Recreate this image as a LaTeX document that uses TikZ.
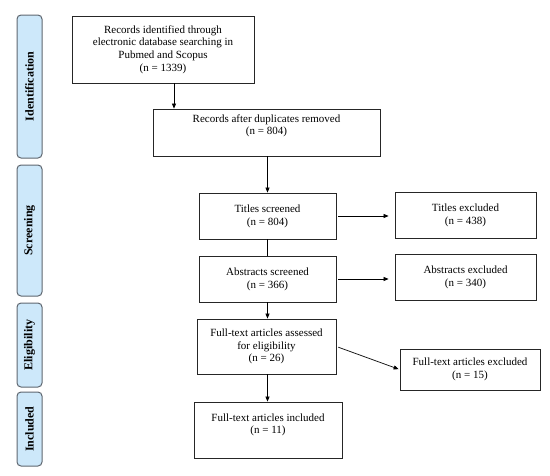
\documentclass[tikz,border=0pt]{standalone}
\usepackage{fontspec}
\setmainfont{Liberation Serif}
\usetikzlibrary{arrows.meta}
\definecolor{tabfill}{HTML}{CDE8FA}
\definecolor{tabdraw}{HTML}{5F6770}
\begin{document}
\begin{tikzpicture}[x=1pt,y=-1pt,
  every node/.style={font=\fontsize{11}{12.8}\selectfont},
  box/.style={draw=black!85, line width=0.8pt, align=center, inner sep=2pt},
  tab/.style={draw=tabdraw, fill=tabfill, line width=1pt, rounded corners=4pt, rotate=90,
    minimum height=25pt, inner sep=0pt, font=\fontsize{12}{14}\selectfont\bfseries},
  arr/.style={-{Triangle[length=5pt,width=4pt]}, line width=0.7pt},
  ln/.style={line width=0.7pt}]
\useasboundingbox (0,0) rectangle (550,475);
% side tabs
\node[tab, minimum width=143pt] (tid) at (29.5,86.5) {Identification};
\node[tab, minimum width=131pt] (tsc) at (29.5,230.5) {Screening};
\node[tab, minimum width=84pt] (tel) at (29.5,345) {Eligibility};
\node[tab, minimum width=74pt] (tin) at (29.5,429) {Included};
% boxes
\node[box, minimum width=182pt, minimum height=67pt] (b1) at (163,49.5)
  {Records identified through\\electronic database searching in\\Pubmed and Scopus\\(n = 1339)};
\node[box, minimum width=227pt, minimum height=47pt] (b2) at (266.5,132.5)
  {Records after duplicates removed\\(n = 804)\\[3pt]};
\node[box, minimum width=137pt, minimum height=46pt] (ts) at (267.5,216)
  {Titles screened\\(n = 804)};
\node[box, minimum width=141pt, minimum height=46pt] (te) at (465.5,215)
  {Titles excluded\\(n = 438)};
\node[box, minimum width=137pt, minimum height=46pt] (as) at (267.5,279)
  {Abstracts screened\\(n = 366)};
\node[box, minimum width=141pt, minimum height=46pt] (ae) at (465.5,277)
  {Abstracts excluded\\(n = 340)};
\node[box, minimum width=139pt, minimum height=55pt] (ft) at (266.5,346.5)
  {Full-text articles assessed\\for eligibility\\(n = 26)};
\node[box, minimum width=140pt, minimum height=41pt] (fe) at (470,369.5)
  {Full-text articles excluded\\(n = 15)};
\node[box, minimum width=148pt, minimum height=56pt] (fi) at (268,430)
  {Full-text articles included\\(n = 11)\\\mbox{}};
% connectors
\coordinate (x1) at (174,0);
\draw[arr] (b1.south -| x1) -- (b2.north -| x1);
\draw[arr] (b2.south -| ts) -- (ts.north);
\draw[ln] (ts.south) -- (as.north);
\draw[arr] (as.south) -- (ft.north -| as);
\draw[arr] (ft.south -| ts) -- (fi.north -| ts);
\draw[arr, shorten <=2pt, shorten >=6pt] (ts.east) -- (te.west |- ts.east);
\draw[arr, shorten <=2pt, shorten >=6pt] (as.east) -- (ae.west |- as.east);
\draw[arr, shorten <=2pt, shorten >=1pt] (ft.east) -- (fe.west);
\end{tikzpicture}
\end{document}
